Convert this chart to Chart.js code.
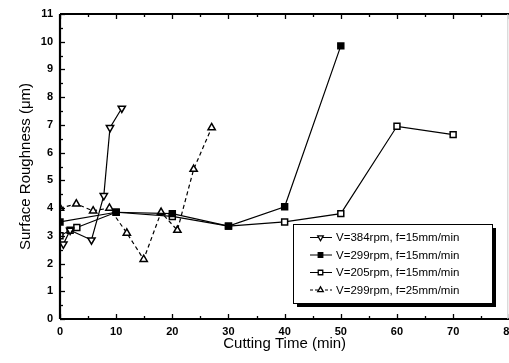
<!DOCTYPE html>
<html>
<head>
<meta charset="utf-8">
<script src="https://cdn.jsdelivr.net/npm/chart.js@4/dist/chart.umd.min.js"></script>
<style>
html,body{margin:0;padding:0;background:#fff;overflow:hidden;}
#wrap{width:509px;height:363px;overflow:hidden;}
</style>
</head>
<body>
<div id="wrap"><canvas id="c" width="515" height="363"></canvas></div>
<script>
// ---- data ----
const seriesLabels = [
  "V=384rpm, f=15mm/min",
  "V=299rpm, f=15mm/min",
  "V=205rpm, f=15mm/min",
  "V=299rpm, f=25mm/min"
];
const time384 = [0.6, 1.8, 5.6, 7.8, 8.9, 11];
const rough384 = [2.7, 3.2, 2.85, 4.45, 6.9, 7.6];
const time299 = [0, 10, 20, 30, 40, 50];
const rough299 = [3.5, 3.85, 3.8, 3.35, 4.05, 9.85];
const time205 = [0, 1.8, 3, 10, 20, 30, 40, 50, 60, 70];
const rough205 = [3.0, 3.2, 3.3, 3.85, 3.7, 3.35, 3.5, 3.8, 6.95, 6.65];
const time299f25 = [0, 2.9, 5.9, 8.8, 11.9, 14.9, 18, 20.9, 23.8, 27];
const rough299f25 = [4.0, 4.15, 3.9, 4.0, 3.1, 2.15, 3.85, 3.2, 5.4, 6.9];
const xTicks = [0, 10, 20, 30, 40, 50, 60, 70, 80];
const yTicks = [0, 1, 2, 3, 4, 5, 6, 7, 8, 9, 10, 11];

const pts = (xs, ys) => xs.map((x, i) => ({x: x, y: ys[i]}));

const styles = [
  {pointStyle: 'triangle', rotation: 180, fill: '#fff', dash: []},
  {pointStyle: 'rect', rotation: 0, fill: '#000', dash: []},
  {pointStyle: 'rect', rotation: 0, fill: '#fff', dash: []},
  {pointStyle: 'triangle', rotation: 0, fill: '#fff', dash: [4, 3]}
];
const dataArrays = [
  pts(time384, rough384), pts(time299, rough299),
  pts(time205, rough205), pts(time299f25, rough299f25)
];

const datasets = dataArrays.map((d, i) => ({
  label: seriesLabels[i],
  data: d,
  showLine: true,
  borderColor: '#000',
  borderWidth: 1.2,
  borderDash: styles[i].dash,
  pointStyle: styles[i].pointStyle,
  rotation: styles[i].rotation,
  pointRadius: 4.2,
  pointBorderWidth: 1.5,
  pointBorderColor: '#000',
  pointBackgroundColor: styles[i].fill,
  tension: 0
}));

const FONT = 'Arial, "Liberation Sans", Helvetica, sans-serif';

const framePlugin = {
  id: 'frame',
  afterDraw(chart) {
    const {ctx, chartArea: a, scales: {x, y}} = chart;
    ctx.save();
    ctx.strokeStyle = '#000';
    ctx.lineWidth = 1.3;
    for (let v = 0; v <= 80; v += 5) {
      const px = Math.round(x.getPixelForValue(v)) + 0.5;
      const len = (v % 10 === 0) ? 5 : 3;
      ctx.beginPath();
      ctx.moveTo(px, a.bottom); ctx.lineTo(px, a.bottom - len);
      ctx.moveTo(px, a.top); ctx.lineTo(px, a.top + len);
      ctx.stroke();
    }
    for (let v = 0; v <= 11; v += 0.5) {
      const py = Math.round(y.getPixelForValue(v)) + 0.5;
      const len = (v % 1 === 0) ? 5 : 3;
      ctx.beginPath();
      ctx.moveTo(a.left, py); ctx.lineTo(a.left + len, py);
      ctx.stroke();
    }
    ctx.lineWidth = 2.2;
    ctx.beginPath();
    ctx.moveTo(a.left, a.top); ctx.lineTo(a.right, a.top);
    ctx.moveTo(a.left, a.top); ctx.lineTo(a.left, a.bottom);
    ctx.moveTo(a.left, a.bottom); ctx.lineTo(a.right, a.bottom);
    ctx.stroke();
    ctx.strokeStyle = '#ccc';
    ctx.lineWidth = 1;
    ctx.beginPath();
    ctx.moveTo(a.right - 1.5, a.top); ctx.lineTo(a.right - 1.5, a.bottom);
    ctx.stroke();
    ctx.restore();
  }
};

const legendPlugin = {
  id: 'boxLegend',
  afterDraw(chart) {
    const {ctx} = chart;
    const bx = 293, by = 224, bw = 199, bh = 79;
    ctx.save();
    ctx.fillStyle = '#000';
    ctx.fillRect(bx + 4, by + 4, bw, bh);
    ctx.fillStyle = '#fff';
    ctx.fillRect(bx, by, bw, bh);
    ctx.strokeStyle = '#000';
    ctx.lineWidth = 1;
    ctx.strokeRect(bx + 0.5, by + 0.5, bw, bh);
    const rows = [237.5, 255, 272.5, 290];
    chart.data.datasets.forEach((ds, i) => {
      const yy = rows[i];
      ctx.strokeStyle = '#000';
      ctx.lineWidth = 1;
      ctx.setLineDash(i === 3 ? [3, 2] : []);
      ctx.beginPath();
      ctx.moveTo(310, yy); ctx.lineTo(332, yy);
      ctx.stroke();
      ctx.setLineDash([]);
      ctx.fillStyle = ds.pointBackgroundColor;
      ctx.lineWidth = 1.3;
      Chart.helpers.drawPoint(ctx, {pointStyle: ds.pointStyle, rotation: ds.rotation, radius: 3.2, borderWidth: 1.3}, 320.5, yy);
      ctx.fillStyle = '#000';
      ctx.font = '11.5px ' + FONT;
      ctx.textAlign = 'left';
      ctx.textBaseline = 'middle';
      ctx.fillText(ds.label, 336, yy + 0.5);
    });
    ctx.restore();
  }
};

new Chart(document.getElementById('c'), {
  type: 'scatter',
  data: {datasets: datasets},
  options: {
    responsive: false,
    animation: false,
    devicePixelRatio: 1,
    layout: {padding: {top: 14, right: 0, left: 0, bottom: 0}},
    plugins: {legend: {display: false}, tooltip: {enabled: false}},
    scales: {
      x: {
        type: 'linear', min: 0, max: 80,
        afterBuildTicks: s => { s.ticks = xTicks.map(v => ({value: v})); },
        grid: {display: false, drawTicks: false},
        border: {display: false},
        ticks: {color: '#000', padding: 6, font: {family: FONT, size: 11, weight: 'bold'}},
        title: {display: true, text: 'Cutting Time (min)', color: '#000',
                font: {family: FONT, size: 15}, padding: {top: 0, bottom: 10}},
        afterFit: s => { s.height = 44; s.paddingLeft = 0; s.paddingRight = 0; }
      },
      y: {
        type: 'linear', min: 0, max: 11,
        afterBuildTicks: s => { s.ticks = yTicks.map(v => ({value: v})); },
        grid: {display: false, drawTicks: false},
        border: {display: false},
        ticks: {color: '#000', padding: 7, font: {family: FONT, size: 11, weight: 'bold'}},
        title: {display: true, text: 'Surface Roughness (\u03bcm)', color: '#000',
                font: {family: FONT, size: 15}, padding: {top: 17, bottom: 0}},
        afterFit: s => { s.width = 60; s.paddingTop = 0; s.paddingBottom = 0; }
      }
    }
  },
  plugins: [framePlugin, legendPlugin]
});
</script>
</body>
</html>
